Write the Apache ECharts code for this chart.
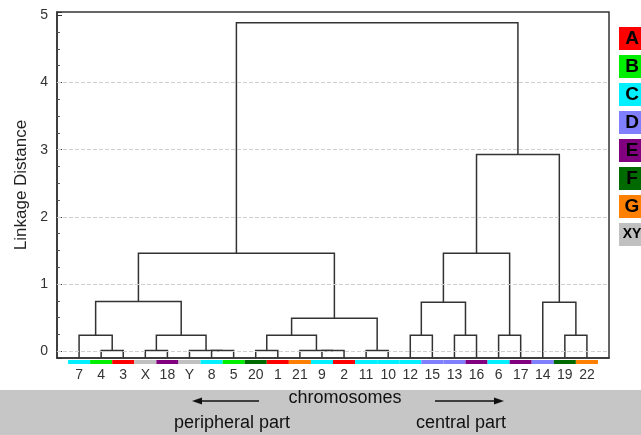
<!DOCTYPE html>
<html>
<head>
<meta charset="utf-8">
<script src="https://cdn.jsdelivr.net/npm/echarts@6.0.0/dist/echarts.min.js"></script>
<style>
  html, body { margin: 0; padding: 0; background: #fff; }
  #chart { width: 641px; height: 435px; }
</style>
</head>
<body>
<div id="chart"></div>
<script>
// leaves in dendrogram order
const leafLabels = ['7', '4', '3', 'X', '18', 'Y', '8', '5', '20', '1', '21', '9', '2', '11', '10', '12', '15', '13', '16', '6', '17', '14', '19', '22']
const leafGroups = ['C', 'B', 'A', 'XY', 'E', 'XY', 'C', 'B', 'F', 'A', 'G', 'C', 'A', 'C', 'C', 'C', 'D', 'D', 'E', 'C', 'E', 'D', 'F', 'G']

const groupNames = ['A', 'B', 'C', 'D', 'E', 'F', 'G', 'XY']
const groupColors = ['#ff0000', '#00ee00', '#00f0ff', '#8080ff', '#800080', '#006a00', '#ff8000', '#c0c0c0']

// linkage: node ids < 24 are leaves, 24+ are earlier merges
const mergeLeft   = [1, 0, 3, 6, 5, 26, 25, 8, 11, 10, 31, 13, 34, 30, 15, 17, 38, 19, 40, 22, 21, 42, 37]
const mergeRight  = [2, 24, 4, 7, 27, 28, 29, 9, 12, 32, 33, 14, 35, 36, 16, 18, 39, 20, 41, 23, 43, 44, 45]
const mergeHeight = [0.01, 0.24, 0.01, 0.01, 0.01, 0.24, 0.74, 0.01, 0.01, 0.01, 0.24, 0.01, 0.49, 1.46, 0.24, 0.24, 0.73, 0.24, 1.46, 0.24, 0.73, 2.93, 4.89]

// dashed reference lines
const gridValues = [0, 1, 2, 3, 4]

const yMin = -0.1
const yMax = 5.05

const nodeX = leafLabels.map((_, i) => i)
const nodeH = leafLabels.map(() => yMin)
mergeLeft.forEach((l, k) => {
    nodeX.push((nodeX[l] + nodeX[mergeRight[k]]) / 2)
    nodeH.push(mergeHeight[k])
})

const chart = echarts.init(document.getElementById('chart'))
const font = '"Liberation Sans", Arial, sans-serif'

const legendGraphics = []
groupNames.forEach((g, i) => {
    legendGraphics.push({
        type: 'rect',
        shape: { x: 619, y: 27 + i * 28, width: 26, height: 23 },
        style: { fill: groupColors[i] }
    })
    legendGraphics.push({
        type: 'text',
        x: 632, y: 38.5 + i * 28,
        style: {
            text: g, fill: '#000', align: 'center', verticalAlign: 'middle',
            font: 'bold ' + (g.length > 1 ? 14 : 19) + 'px ' + font
        }
    })
})

const option = {
    backgroundColor: '#fff',
    animation: false,
    grid: {
        left: 57, right: 32, top: 12, bottom: 77,
        show: true, borderColor: '#333', borderWidth: 1.5
    },
    xAxis: {
        type: 'value',
        min: -1, max: 24, interval: 1,
        axisLine: { show: true, onZero: false, lineStyle: { color: '#333', width: 1.5 } },
        axisTick: { show: false },
        splitLine: { show: false },
        axisLabel: {
            margin: 10, color: '#333', fontSize: 14, fontFamily: font,
            showMinLabel: false, showMaxLabel: false,
            formatter: v => leafLabels[v] !== undefined ? leafLabels[v] : ''
        }
    },
    yAxis: {
        type: 'value',
        min: yMin, max: yMax, splitNumber: 5,
        name: 'Linkage Distance',
        nameLocation: 'middle', nameGap: 26,
        nameTextStyle: { color: '#222', fontSize: 17, fontFamily: font },
        axisLine: { show: true, onZero: false, lineStyle: { color: '#333', width: 1.5 } },
        axisTick: { show: true, inside: true, length: 5, lineStyle: { color: '#333' } },
        minorTick: { show: true, splitNumber: 4, length: 3, lineStyle: { color: '#555' } },
        splitLine: { show: false },
        axisLabel: {
            margin: 9, color: '#333', fontSize: 14, fontFamily: font,
            formatter: v => Number.isInteger(Math.round(v * 1000) / 1000) ? String(v) : ''
        }
    },
    series: [
        {
            type: 'custom',
            name: 'links',
            clip: false,
            data: mergeLeft.map((l, k) => [k]),
            markLine: {
                silent: true,
                symbol: 'none',
                label: { show: false },
                lineStyle: { color: '#cfcfcf', type: 'dashed', width: 1 },
                data: gridValues.map(v => ({ yAxis: v }))
            },
            renderItem: (params, api) => {
                const k = api.value(0)
                const l = mergeLeft[k]
                const r = mergeRight[k]
                const h = mergeHeight[k]
                const pts = [
                    api.coord([nodeX[l], nodeH[l]]),
                    api.coord([nodeX[l], h]),
                    api.coord([nodeX[r], h]),
                    api.coord([nodeX[r], nodeH[r]])
                ]
                return {
                    type: 'polyline',
                    shape: { points: pts },
                    style: { stroke: '#333', lineWidth: 1.5, fill: null }
                }
            }
        },
        {
            type: 'custom',
            name: 'groups',
            clip: false,
            data: leafGroups.map((g, i) => [i, groupNames.indexOf(g)]),
            renderItem: (params, api) => {
                const i = api.value(0)
                const c = groupColors[api.value(1)]
                const a = api.coord([i - 0.5, yMin])
                const b = api.coord([i + 0.5, yMin])
                return {
                    type: 'rect',
                    shape: { x: a[0], y: a[1] + 2, width: b[0] - a[0], height: 4 },
                    style: { fill: c }
                }
            }
        }
    ],
    graphic: [
        ...legendGraphics,
        {
            type: 'rect',
            shape: { x: 0, y: 390, width: 641, height: 45 },
            style: { fill: '#c6c6c6' }
        },
        {
            type: 'text', x: 345, y: 398,
            style: { text: 'chromosomes', fill: '#111', align: 'center', verticalAlign: 'middle', font: '18px ' + font }
        },
        {
            type: 'text', x: 232, y: 423,
            style: { text: 'peripheral part', fill: '#111', align: 'center', verticalAlign: 'middle', font: '18px ' + font }
        },
        {
            type: 'text', x: 461, y: 423,
            style: { text: 'central part', fill: '#111', align: 'center', verticalAlign: 'middle', font: '18px ' + font }
        },
        {
            type: 'line',
            shape: { x1: 198, y1: 401, x2: 259, y2: 401 },
            style: { stroke: '#111', lineWidth: 1.3 }
        },
        {
            type: 'polygon',
            shape: { points: [[192, 401], [202, 397.5], [202, 404.5]] },
            style: { fill: '#111' }
        },
        {
            type: 'line',
            shape: { x1: 435, y1: 401, x2: 498, y2: 401 },
            style: { stroke: '#111', lineWidth: 1.3 }
        },
        {
            type: 'polygon',
            shape: { points: [[504, 401], [494, 397.5], [494, 404.5]] },
            style: { fill: '#111' }
        }
    ]
}

chart.setOption(option)
</script>
</body>
</html>
